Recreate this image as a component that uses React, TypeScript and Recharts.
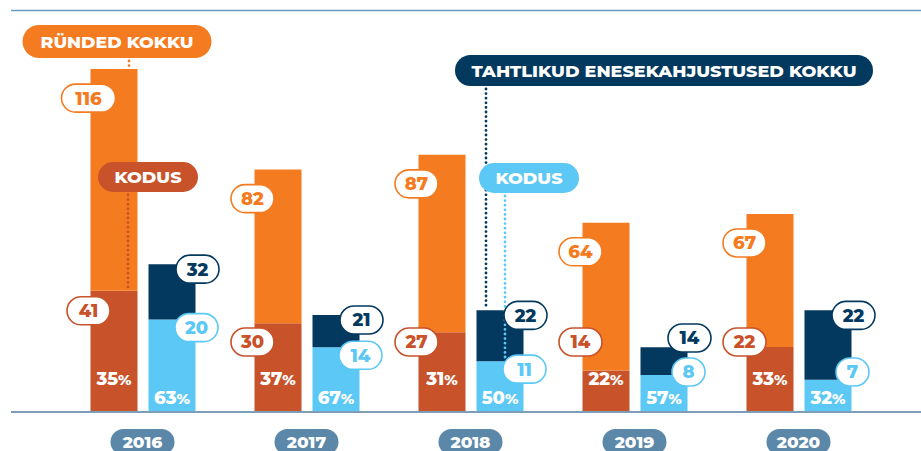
import React from 'react';
import { BarChart, Bar, XAxis, YAxis, CartesianGrid, LabelList } from 'recharts';

// Ründed (attacks) and tahtlikud enesekahjustused (self-harm), per year
const years = ['2016', '2017', '2018', '2019', '2020'];
const attacksTotal = [116, 82, 87, 64, 67];
const attacksHome = [41, 30, 27, 14, 22];
const attacksHomePct = [35, 37, 31, 22, 33];
const selfHarmTotal = [32, 21, 22, 14, 22];
const selfHarmHome = [20, 14, 11, 8, 7];
const selfHarmHomePct = [63, 67, 50, 57, 32];

const ATTACKS_LABEL = 'RÜNDED KOKKU';
const SELF_HARM_LABEL = 'TAHTLIKUD ENESEKAHJUSTUSED KOKKU';
const HOME_LABEL = 'KODUS';
const ATTACKS_CALLOUT_YEAR = '2016';
const SELF_HARM_CALLOUT_YEAR = '2018';

const ORANGE = '#F47B20';
const RUST = '#C8522A';
const NAVY = '#03395E';
const SKY = '#5CC8F5';
const STEEL = '#5B87A9';
const FONT = "Montserrat, 'Open Sans', 'Noto Sans', sans-serif";

const rows = years.map((year, i) => ({
  year,
  attacksHome: attacksHome[i],
  attacksRest: attacksTotal[i] - attacksHome[i],
  attacksTotal: attacksTotal[i],
  attacksHomePct: attacksHomePct[i],
  selfHome: selfHarmHome[i],
  selfRest: selfHarmTotal[i] - selfHarmHome[i],
  selfTotal: selfHarmTotal[i],
  selfHomePct: selfHarmHomePct[i],
  attacksCallout: year === ATTACKS_CALLOUT_YEAR ? 1 : null,
  selfCallout: year === SELF_HARM_CALLOUT_YEAR ? 1 : null,
}));

// label props differ a bit between recharts versions
function geom(p: any) {
  const vb = p.viewBox || {};
  return {
    x: Number(vb.x ?? p.x),
    y: Number(vb.y ?? p.y),
    width: Number(vb.width ?? p.width),
    height: Number(vb.height ?? p.height),
  };
}

function Pill({ cx, cy, text, color }: { cx: number; cy: number; text: any; color: string }) {
  const len = String(text).length;
  const w = len === 1 ? 33 : len === 2 ? 43 : 54;
  return (
    <g>
      <rect x={cx - w / 2} y={cy - 14} width={w} height={28} rx={14} fill="#fff" stroke={color} strokeWidth={1.6} />
      <text x={cx} y={cy} dy="0.36em" textAnchor="middle" fill={color} fontSize={18} fontWeight={800} fontFamily={FONT}>
        {text}
      </text>
    </g>
  );
}

function Tag({ x, y, w, h, text, fill, textWidth }: any) {
  return (
    <g>
      <rect x={x} y={y} width={w} height={h} rx={h / 2} fill={fill} />
      <text
        x={x + w / 2}
        y={y + h / 2}
        dy="0.36em"
        textAnchor="middle"
        fill="#fff"
        fontSize={17}
        fontWeight={800}
        fontFamily={FONT}
        textLength={textWidth}
        lengthAdjust="spacingAndGlyphs"
      >
        {text}
      </text>
    </g>
  );
}

function Dots({ x, y1, y2, color }: any) {
  if (y2 <= y1) return null;
  return (
    <line x1={x} x2={x} y1={y1} y2={y2} stroke={color} strokeWidth={2.8} strokeDasharray="0 4.6" strokeLinecap="round" />
  );
}

function Percent({ cx, cy, value }: any) {
  return (
    <text x={cx} y={cy} dy="0.36em" textAnchor="middle" fill="#fff" fontSize={18} fontWeight={800} fontFamily={FONT}>
      {value}
      <tspan fontSize={15}>%</tspan>
    </text>
  );
}

const attacksCallout = (p: any) => {
  if (!p.value) return null;
  const { x, y, height } = geom(p);
  return (
    <g>
      <Dots x={x + 38.5} y1={61} y2={y - 2} color={ORANGE} />
      <Tag x={x - 68} y={25} w={189} h={33} text={ATTACKS_LABEL} fill={ORANGE} textWidth={153} />
      <Dots x={x + 37.5} y1={195} y2={y + height} color={RUST} />
      <Tag x={x + 7.5} y={162} w={100} h={30} text={HOME_LABEL} fill={RUST} textWidth={67} />
    </g>
  );
};

const selfCallout = (p: any) => {
  if (!p.value) return null;
  const { x, y, height } = geom(p);
  return (
    <g>
      <Dots x={x + 9.5} y1={89} y2={y - 5} color={NAVY} />
      <Tag x={x - 21.5} y={55} w={418} h={31} text={SELF_HARM_LABEL} fill={NAVY} textWidth={385} />
      <Dots x={x + 28.5} y1={196} y2={y + height} color={SKY} />
      <Tag x={x + 2.5} y={163} w={100} h={30} text={HOME_LABEL} fill={SKY} textWidth={67} />
    </g>
  );
};

const attacksTotalPill = (p: any) => {
  const { x, y } = geom(p);
  return <Pill cx={x - 2} cy={y + 29} text={p.value} color={ORANGE} />;
};

const attacksHomePill = (p: any) => {
  const { x, y, height } = geom(p);
  return <Pill cx={x - 2} cy={Math.min(y + height + 20, 342)} text={p.value} color={RUST} />;
};

const selfTotalPill = (p: any) => {
  const { x, y, width } = geom(p);
  return <Pill cx={x + width + 2} cy={Math.min(y + 5, 338)} text={p.value} color={NAVY} />;
};

const selfHomePill = (p: any) => {
  const { x, y, width, height } = geom(p);
  return <Pill cx={x + width + 1} cy={Math.min(y + height + 8, 372)} text={p.value} color={SKY} />;
};

const attacksPct = (p: any) => {
  const { x, y, width, height } = geom(p);
  return <Percent cx={x + width / 2} cy={y + height - 33} value={p.value} />;
};

const selfPct = (p: any) => {
  const { x, y, width, height } = geom(p);
  return <Percent cx={x + width / 2} cy={y + height - 14} value={p.value} />;
};

function YearTick({ x, y, payload }: any) {
  return (
    <g>
      <rect x={x - 32} y={y + 17} width={64} height={26} rx={13} fill={STEEL} />
      <text x={x} y={y + 30} dy="0.36em" textAnchor="middle" fill="#fff" fontSize={17} fontWeight={800} fontFamily={FONT}>
        {payload.value}
      </text>
    </g>
  );
}

export default function App() {
  return (
    <div style={{ width: 921, height: 451, background: '#fff' }}>
      <style>{'body{margin:0}'}</style>
      <BarChart
        width={921}
        height={451}
        data={rows}
        margin={{ top: 10, right: 0, bottom: 0, left: 11 }}
        barGap={11}
        barSize={47}
      >
        <CartesianGrid yAxisId="left" vertical={false} horizontalPoints={[10.5]} stroke="#6E98C2" strokeWidth={1.5} />
        <XAxis
          dataKey="year"
          height={39}
          padding={{ left: 49.5, right: 40.5 }}
          axisLine={{ stroke: '#7D9DB9', strokeWidth: 2 }}
          tickLine={false}
          tickSize={0}
          tickMargin={0}
          interval={0}
          tick={<YearTick />}
        />
        <YAxis yAxisId="left" hide domain={[0, 136]} />
        <YAxis yAxisId="right" orientation="right" hide domain={[0, 87]} />

        <Bar yAxisId="left" dataKey="attacksHome" stackId="a" fill={RUST} isAnimationActive={false}>
          <LabelList dataKey="attacksHomePct" content={attacksPct} />
        </Bar>
        <Bar yAxisId="left" dataKey="attacksRest" stackId="a" fill={ORANGE} isAnimationActive={false}>
          <LabelList dataKey="attacksCallout" content={attacksCallout} />
          <LabelList dataKey="attacksTotal" content={attacksTotalPill} />
          <LabelList dataKey="attacksHome" content={attacksHomePill} />
        </Bar>
        <Bar yAxisId="right" dataKey="selfHome" stackId="b" fill={SKY} isAnimationActive={false}>
          <LabelList dataKey="selfHomePct" content={selfPct} />
        </Bar>
        <Bar yAxisId="right" dataKey="selfRest" stackId="b" fill={NAVY} isAnimationActive={false}>
          <LabelList dataKey="selfCallout" content={selfCallout} />
          <LabelList dataKey="selfTotal" content={selfTotalPill} />
          <LabelList dataKey="selfHome" content={selfHomePill} />
        </Bar>
      </BarChart>
    </div>
  );
}
